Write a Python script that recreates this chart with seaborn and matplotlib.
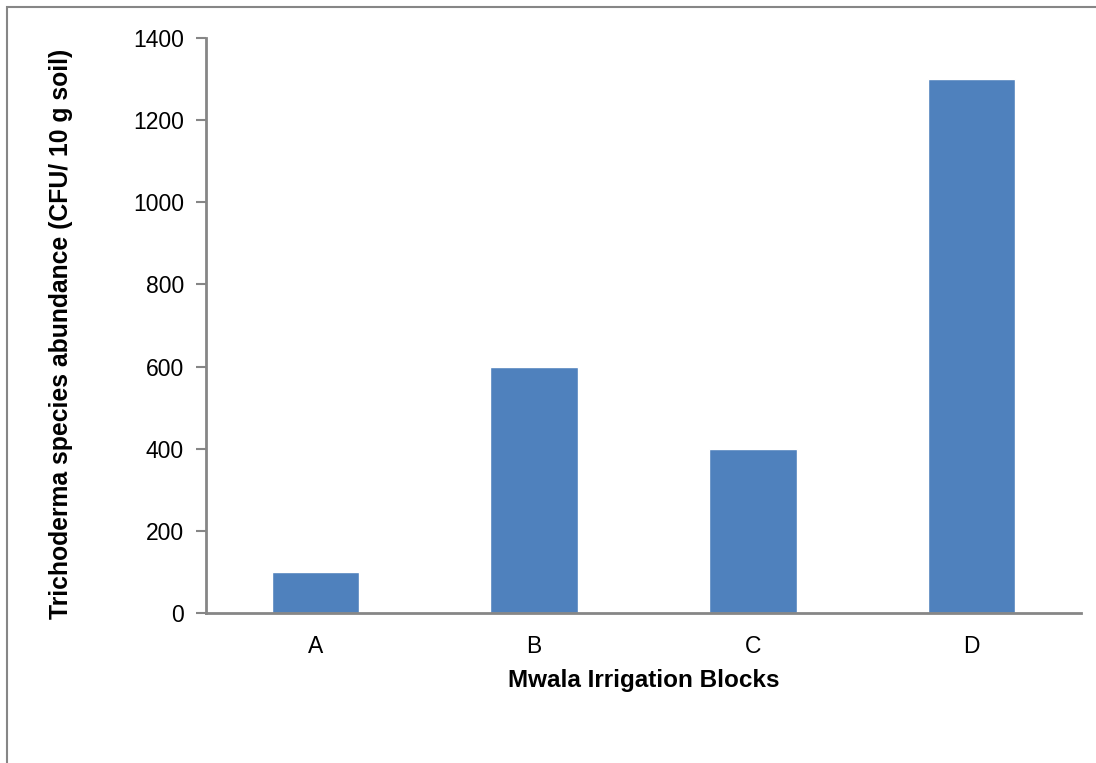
import matplotlib
matplotlib.use("Agg")
import matplotlib.pyplot as plt
from matplotlib.patches import Rectangle
import seaborn as sns
import pandas as pd

blocks = ["A", "B", "C", "D"]
abundance = [100, 600, 400, 1300]
y_ticks = [0, 200, 400, 600, 800, 1000, 1200, 1400]

sns.set_theme(style="white")
plt.rcParams["font.family"] = ["Liberation Sans", "DejaVu Sans"]

df = pd.DataFrame({"block": blocks, "abundance": abundance})

fig = plt.figure(figsize=(10.96, 7.63), dpi=100)
ax = fig.add_axes([206 / 1096, 1 - 613 / 763, 875 / 1096, 575 / 763])

sns.barplot(data=df, x="block", y="abundance", color="#4F81BD", saturation=1,
            width=0.4, ax=ax)

ax.set_xlim(-0.5, 3.5)
ax.set_ylim(0, 1400)
ax.set_yticks(y_ticks)
ax.tick_params(axis="y", which="major", length=7, width=1.5, color="#868686",
               labelsize=16.5, labelcolor="black", pad=9, left=True)
ax.tick_params(axis="x", length=0, labelsize=16.5, labelcolor="black", pad=16)

for side in ("top", "right"):
    ax.spines[side].set_visible(False)
for side in ("left", "bottom"):
    ax.spines[side].set_color("#868686")
    ax.spines[side].set_linewidth(2)

ax.set_xlabel("Mwala Irrigation Blocks", fontsize=17.5, fontweight="bold",
              color="black", labelpad=7.5)
ax.set_ylabel("Trichoderma species abundance (CFU/ 10 g soil)", fontsize=17.8,
              fontweight="bold", color="black", labelpad=43)
ax.yaxis.label.set_y(0.485)

# outer chart frame
fig.patches.append(Rectangle((7 / 1096, -0.1), 1.2, 1 - 7 / 763 + 0.1,
                             transform=fig.transFigure, fill=False,
                             edgecolor="#868686", linewidth=1.5))

fig.savefig("out.png", dpi=100)
